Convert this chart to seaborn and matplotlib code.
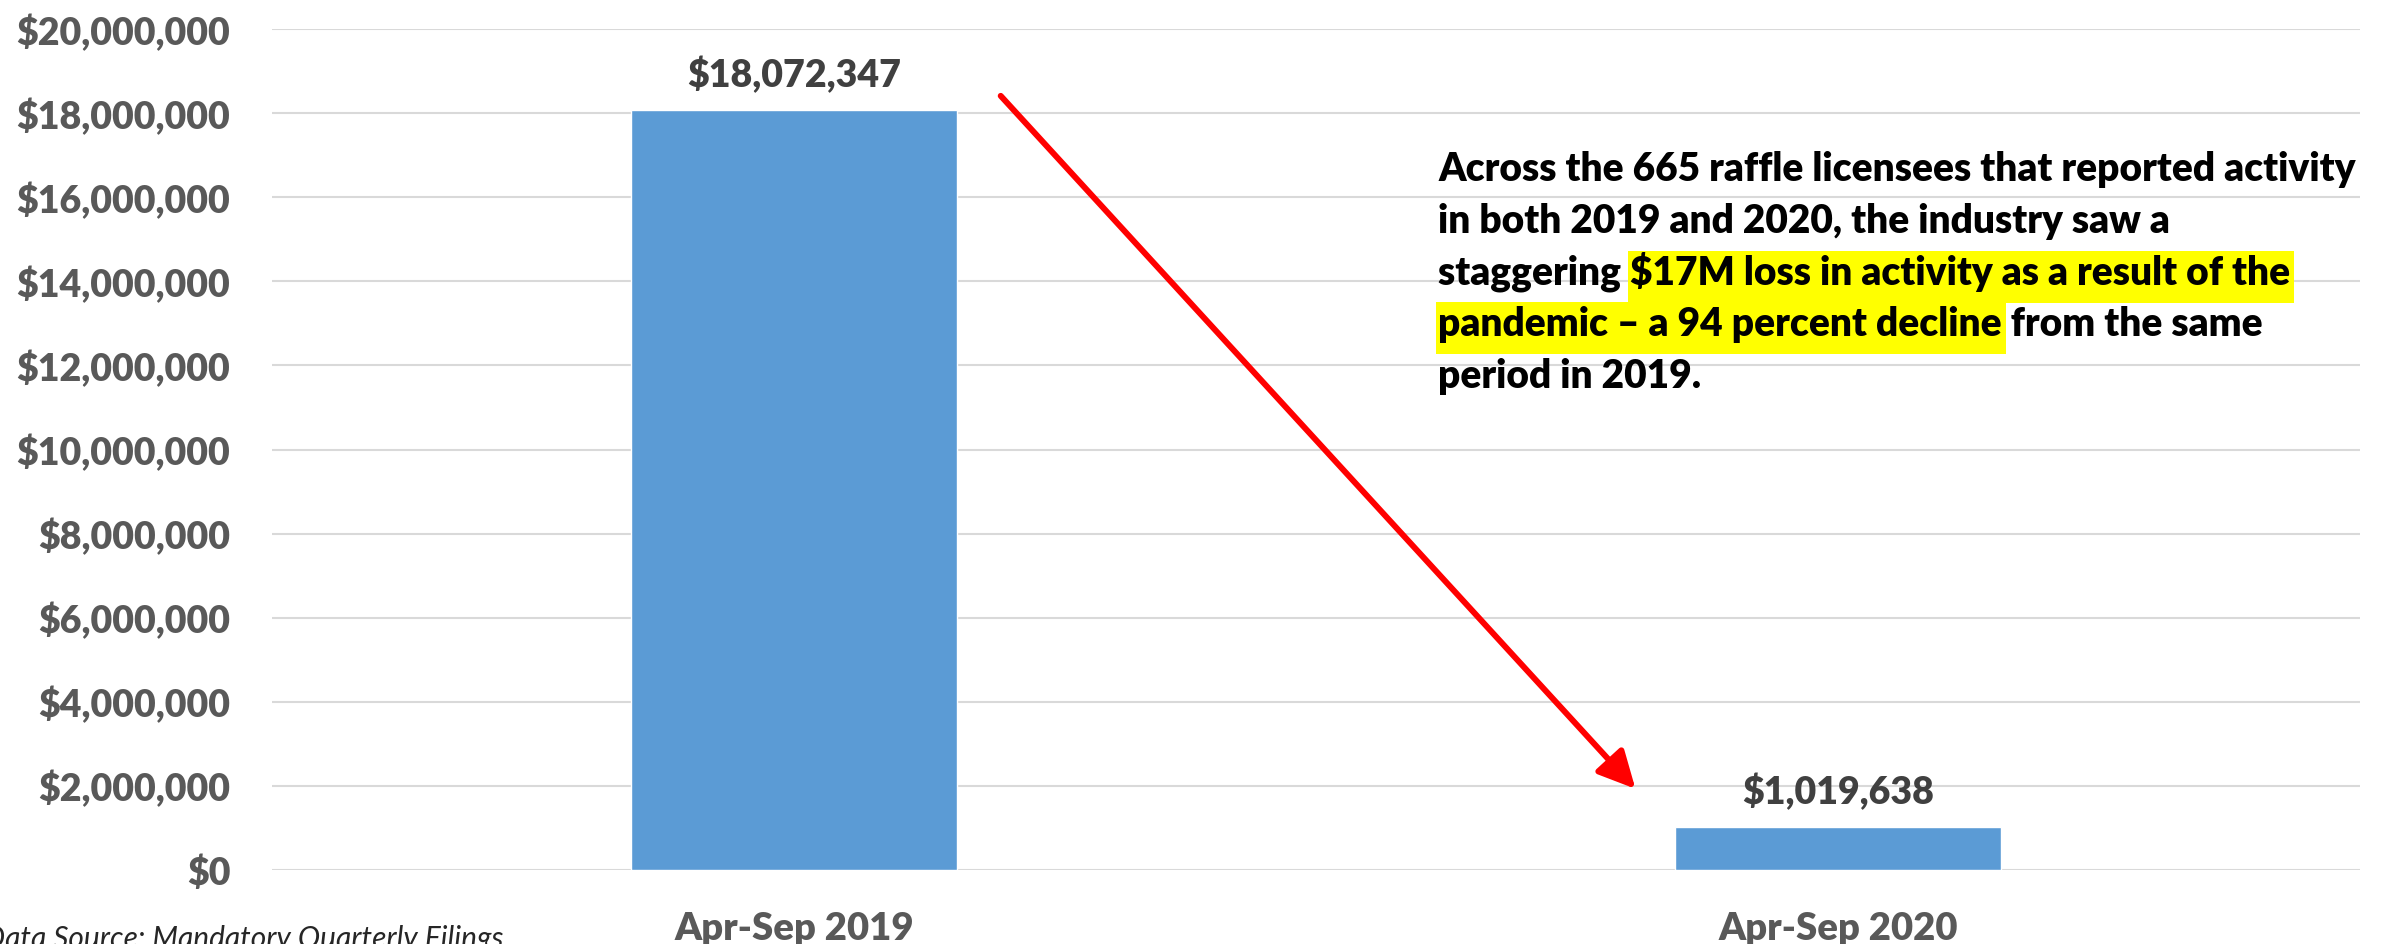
import matplotlib
matplotlib.use("Agg")
import matplotlib.pyplot as plt
import seaborn as sns
import pandas as pd
from matplotlib.ticker import FuncFormatter, MultipleLocator
from matplotlib.patches import Rectangle

# data
periods = ["Apr-Sep 2019", "Apr-Sep 2020"]
activity = [18072347, 1019638]

note_lines = [
    "Across the 665 raffle licensees that reported activity",
    "in both 2019 and 2020, the industry saw a",
    "staggering $17M loss in activity as a result of the",
    "pandemic \u2013 a 94 percent decline from the same",
    "period in 2019.",
]
# highlighted part of each line (None = no highlight)
note_highlight = [None, None, "$17M loss in activity as a result of the",
                  "pandemic \u2013 a 94 percent decline", None]
source_text = "Data Source: Mandatory Quarterly Filings"

W, H = 2389, 944
sns.set_style("white")
plt.rcParams['font.family'] = ['Lato', 'DejaVu Sans']
wt = "heavy"

df = pd.DataFrame({"period": periods, "activity": activity})

fig = plt.figure(figsize=(W / 100, H / 100), dpi=100)
ax = fig.add_axes([272 / W, 74 / H, (2360 - 272) / W, (870 - 29) / H])

sns.barplot(data=df, x="period", y="activity", color="#5B9BD5",
            saturation=1, width=0.313, ax=ax, zorder=2)

ax.set_xlim(-0.5, 1.5)
ax.set_ylim(0, 20000000)
ax.yaxis.set_major_locator(MultipleLocator(2000000))
ax.yaxis.set_major_formatter(FuncFormatter(lambda v, p: f"${v:,.0f}"))
ax.yaxis.grid(True, color="#D9D9D9", lw=1.5, zorder=0)
ax.set_axisbelow(True)
for s in ax.spines.values():
    s.set_visible(False)
ax.set_xlabel("")
ax.set_ylabel("")
ax.tick_params(axis="y", length=0, pad=30, labelsize=27, labelcolor="#595959")
ax.tick_params(axis="x", length=0, pad=30, labelsize=27.5, labelcolor="#595959")
for lab in ax.get_yticklabels() + ax.get_xticklabels():
    lab.set_fontweight(wt)

ax.bar_label(ax.containers[0], labels=[f"${v:,.0f}" for v in activity],
             padding=12, fontsize=27, fontweight=wt, color="#404040")

# red arrow
ax.annotate("", xy=(0.806, 1.93e6), xytext=(0.198, 18.41e6),
            arrowprops=dict(arrowstyle="-|>,head_length=0.5,head_width=0.25",
                            color="red", lw=4.3, mutation_scale=45,
                            shrinkA=0, shrinkB=0))

# annotation text with highlights
renderer = fig.canvas.get_renderer()
x0 = 1438
baselines = [181, 233, 285, 336, 388]
fs_note = 28


def text_width(s):
    t = fig.text(0, 0, s, fontsize=fs_note, fontweight=wt)
    w = t.get_window_extent(renderer).width
    t.remove()
    return w


for line, hl, yb in zip(note_lines, note_highlight, baselines):
    fig.text(x0 / W, 1 - yb / H, line, fontsize=fs_note, fontweight=wt,
             color="black", va="baseline", ha="left", zorder=3)
    if hl:
        start = line.index(hl)
        if start == 0:
            hx0 = x0 - 2
        else:
            hx0 = x0 + text_width(line) - text_width(line[start:]) - 2
        hx1 = x0 + text_width(line[:start + len(hl)]) + 4
        fig.patches.append(Rectangle(((hx0) / W, 1 - (yb + 18) / H),
                                     (hx1 - hx0) / W, 52 / H,
                                     transform=fig.transFigure,
                                     facecolor="#FFFF00", edgecolor="none",
                                     zorder=1))

fig.text(503 / W, 1 - 925 / H, source_text, fontsize=21.5, fontstyle="italic",
         color="#262626", ha="right", va="top")

fig.savefig("out.png", dpi=100)
